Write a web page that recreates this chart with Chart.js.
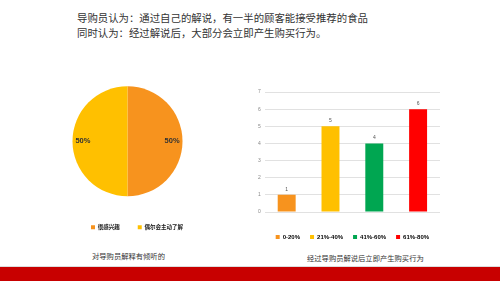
<!DOCTYPE html>
<html lang="zh">
<head>
<meta charset="UTF-8">
<title>导购员解说</title>
<style>
    body { margin: 0; width: 500px; height: 281px; background: #fff; position: relative; overflow: hidden;
           font-family: "Noto Sans CJK SC", "Noto Sans", sans-serif; color: #333; }
    #title { position: absolute; left: 77px; top: 10px; font-size: 10.4px; line-height: 15px; white-space: nowrap; }
    .cap { position: absolute; font-size: 7.3px; line-height: 9px; white-space: nowrap; color: #333; }
    #pieBox { position: absolute; left: 54px; top: 76px; width: 147px; height: 164px; }
    #barBox { position: absolute; left: 254px; top: 85px; width: 186px; height: 165px; }
    #band { position: absolute; left: 0; top: 266px; width: 500px; height: 15px; background: #C80000; border-top: 1px solid #ddd; }
</style>
</head>
<body>
<script src="https://cdn.jsdelivr.net/npm/chart.js"></script>
<div id="title">导购员认为：通过自己的解说，有一半的顾客能接受推荐的食品<br>同时认为：经过解说后，大部分会立即产生购买行为。</div>
<div id="pieBox"><canvas id="pie"></canvas></div>
<div id="barBox"><canvas id="bar"></canvas></div>
<div class="cap" style="left:92px; top:252px;">对导购员解释有倾听的</div>
<div class="cap" style="left:307px; top:254px;">经过导购员解说后立即产生购买行为</div>
<div id="band"></div>
<script>
    // 饼图数据
    const pieLabels = ['很感兴趣', '偶尔会主动了解'];
    const pieValues = [50, 50];
    const pieColors = ['#F7931E', '#FFC000'];

    // 柱状图数据
    const barLabels = ['0-20%', '21%-40%', '41%-60%', '61%-80%'];
    const barValues = [1, 5, 4, 6];
    const barColors = ['#F7931E', '#FFC000', '#00A651', '#FF0000'];
    const yTicks = [0, 1, 2, 3, 4, 5, 6, 7];

    Chart.defaults.font.family = '"Liberation Sans", Arial, sans-serif';
    Chart.defaults.animation = false;

    // 饼图百分比标签
    const pieLabelPlugin = {
        id: 'pieLabel',
        afterDatasetsDraw(chart) {
            const ctx = chart.ctx;
            const total = pieValues.reduce((a, b) => a + b, 0);
            chart.getDatasetMeta(0).data.forEach((arc, i) => {
                const mid = (arc.startAngle + arc.endAngle) / 2;
                const r = arc.outerRadius * 0.81;
                ctx.save();
                ctx.font = 'bold 7.5px "Liberation Sans", Arial, sans-serif';
                ctx.fillStyle = '#333';
                ctx.textAlign = 'center';
                ctx.textBaseline = 'middle';
                ctx.fillText(Math.round(pieValues[i] / total * 100) + '%', arc.x + Math.cos(mid) * r, arc.y + Math.sin(mid) * r);
                ctx.restore();
            });
        }
    };

    new Chart(document.getElementById('pie'), {
        type: 'pie',
        data: {
            labels: pieLabels,
            datasets: [{ data: pieValues, backgroundColor: pieColors, borderWidth: 0 }]
        },
        options: {
            responsive: true,
            maintainAspectRatio: false,
            radius: 55,
            layout: { padding: 0 },
            plugins: {
                legend: {
                    position: 'bottom',
                    align: 'end',
                    labels: {
                        boxWidth: 4, boxHeight: 4, padding: 18, color: '#222',
                        font: { size: 5.5, weight: 'bold', family: '"Noto Sans CJK SC", sans-serif' }
                    }
                },
                tooltip: { enabled: false }
            }
        },
        plugins: [pieLabelPlugin]
    });

    // 柱顶数值
    const barValuePlugin = {
        id: 'barValue',
        afterDatasetsDraw(chart) {
            const ctx = chart.ctx;
            chart.getDatasetMeta(0).data.forEach((bar, i) => {
                ctx.save();
                ctx.font = '5px "Liberation Sans", Arial, sans-serif';
                ctx.fillStyle = '#555';
                ctx.textAlign = 'center';
                ctx.textBaseline = 'bottom';
                ctx.fillText(barValues[i], bar.x, bar.y - 3);
                ctx.restore();
            });
        }
    };

    new Chart(document.getElementById('bar'), {
        type: 'bar',
        data: {
            labels: barLabels,
            datasets: [{
                data: barValues,
                backgroundColor: barColors,
                categoryPercentage: 1,
                barPercentage: 0.41
            }]
        },
        options: {
            responsive: true,
            maintainAspectRatio: false,
            layout: { padding: 0 },
            scales: {
                x: {
                    grid: { display: false },
                    border: { display: false },
                    ticks: { display: false },
                    afterFit(axis) { axis.height = 12; }
                },
                y: {
                    min: yTicks[0],
                    max: yTicks[yTicks.length - 1],
                    afterBuildTicks(axis) { axis.ticks = yTicks.map(v => ({ value: v })); },
                    grid: { color: '#d9d9d9', lineWidth: 0.8, drawTicks: false },
                    border: { display: false },
                    ticks: { font: { size: 5 }, color: '#888', padding: 4 }
                }
            },
            plugins: {
                legend: {
                    position: 'bottom',
                    fullSize: false,
                    labels: {
                        boxWidth: 4, boxHeight: 4, padding: 10, color: '#333',
                        font: { size: 6, weight: 'bold' },
                        generateLabels() {
                            return barLabels.map((t, i) => ({
                                text: t, fillStyle: barColors[i], strokeStyle: barColors[i],
                                lineWidth: 0, hidden: false, index: i
                            }));
                        }
                    }
                },
                tooltip: { enabled: false }
            }
        },
        plugins: [barValuePlugin]
    });
</script>
</body>
</html>
